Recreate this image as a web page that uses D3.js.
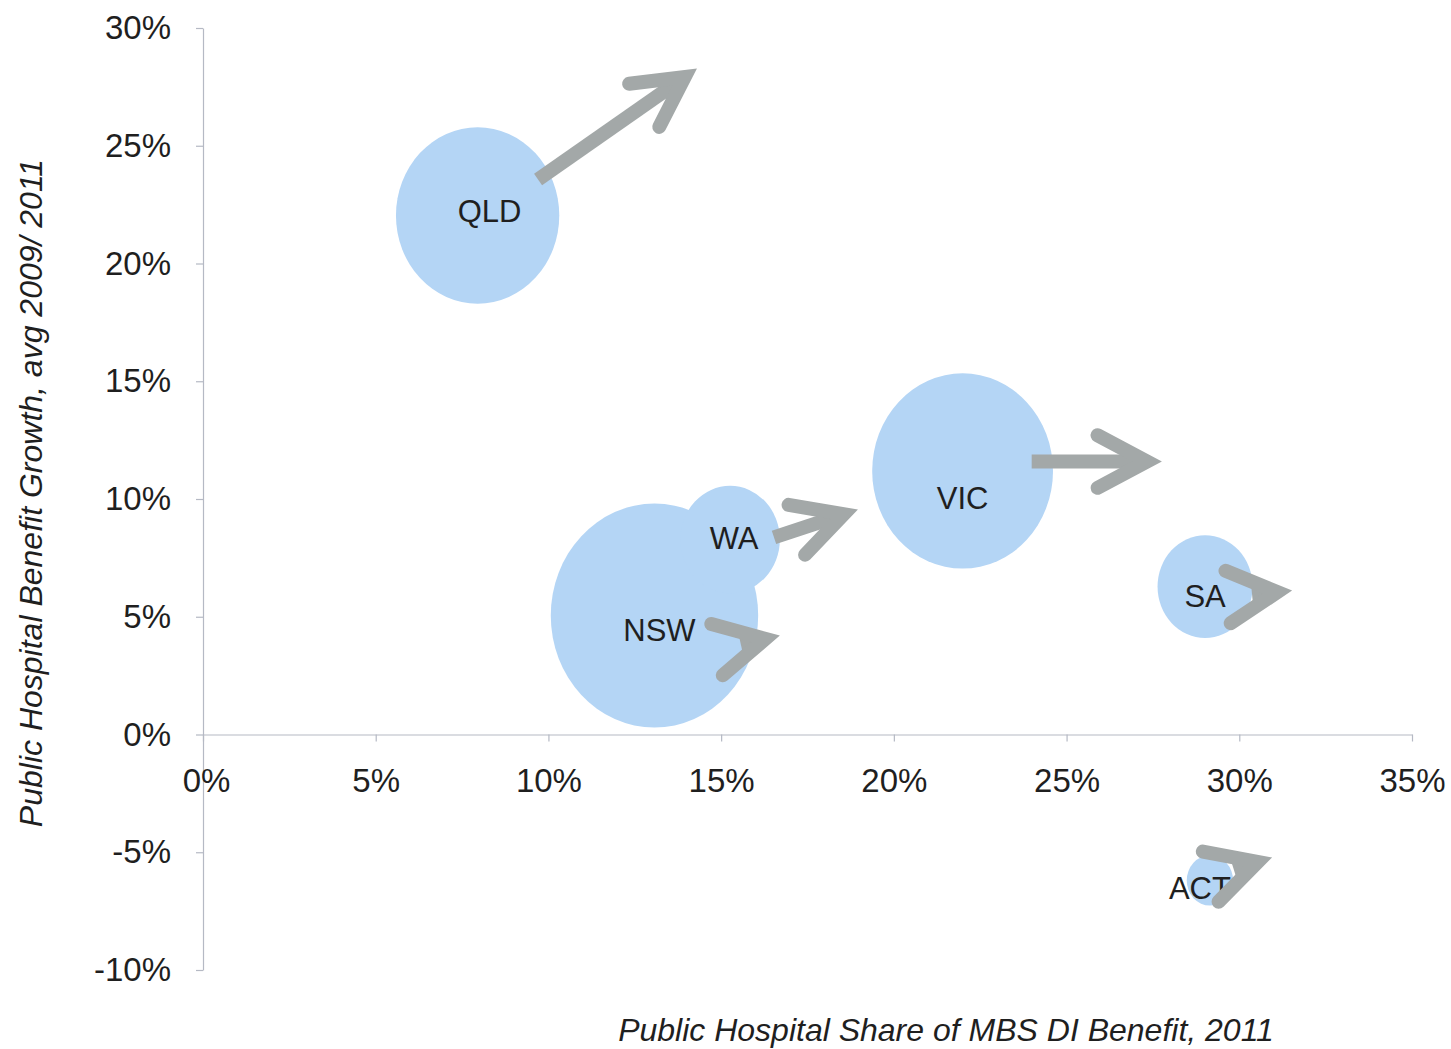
<!DOCTYPE html>
<html>
<head>
<meta charset="utf-8">
<script src="https://cdn.jsdelivr.net/npm/d3@7"></script>
<style>
  body { margin: 0; background: #fff; }
  text { font-family: "Liberation Sans", Arial, sans-serif; fill: #1f1f1f; }
</style>
</head>
<body>
<div id="chart"></div>
<script>
// States and their values (x = public hospital share, y = growth, size = bubble size)
const states = ["QLD", "VIC", "NSW", "WA", "SA", "ACT"];
const shareValues = [7.95, 21.99, 13.07, 15.26, 29.01, 29.15];
const growthValues = [22.04, 11.19, 5.05, 8.28, 6.28, -6.2];
const sizeValues = [62, 76, 100, 23, 21, 5];

// Direction arrows (tail -> tip), in data units
const arrowTailX = [9.7, 23.99, 16.53, 15.57, 30.37, 29.84];
const arrowTailY = [23.57, 11.59, 8.37, 3.83, 5.94, -5.73];
const arrowTipX = [14.3, 27.76, 18.96, 16.7, 31.53, 30.95];
const arrowTipY = [28.28, 11.59, 9.55, 4.2, 6.11, -5.22];

// Axis ticks
const xTicks = [0, 5, 10, 15, 20, 25, 30, 35];
const yTicks = [-10, -5, 0, 5, 10, 15, 20, 25, 30];

// label nudges (px), as placed in the original
const labelNudge = {
  QLD: [12, -5], VIC: [0, 27], NSW: [5, 14], WA: [4, -2], SA: [0, 9], ACT: [-10, 7]
};

const W = 1451, H = 1049;
const bubbleColor = "#b4d5f5";
const arrowColor = "#a3a8a8";
const axisColor = "#b5b9c4";

const svg = d3.select("#chart")
  .append("svg")
  .attr("width", W)
  .attr("height", H);

const xScale = d3.scaleLinear().domain([0, 35]).range([203, 1412]);
const yScale = d3.scaleLinear().domain([-10, 30]).range([970, 28]);
const rScale = d3.scaleSqrt().domain([0, 100]).range([0, 112]);

const data = states.map((s, i) => ({
  state: s,
  x: shareValues[i],
  y: growthValues[i],
  size: sizeValues[i],
  x0: arrowTailX[i], y0: arrowTailY[i],
  x1: arrowTipX[i], y1: arrowTipY[i]
}));

// Axes
const yAxis = svg.append("g")
  .attr("transform", `translate(${xScale(0)},0)`)
  .call(d3.axisLeft(yScale).tickValues(yTicks).tickSize(7).tickSizeOuter(0)
    .tickPadding(25).tickFormat(d => d + "%"));

const xAxis = svg.append("g")
  .attr("transform", `translate(0,${yScale(0)})`)
  .call(d3.axisBottom(xScale).tickValues(xTicks).tickSize(7).tickSizeOuter(0)
    .tickPadding(26).tickFormat(d => d + "%"));

[xAxis, yAxis].forEach(a => {
  a.selectAll("path, line").attr("stroke", axisColor).attr("stroke-width", 1.2);
  a.selectAll("text")
    .style("font-family", "'Liberation Sans', Arial, sans-serif")
    .style("font-size", "33px")
    .attr("fill", "#1f1f1f");
});
xAxis.selectAll("text").attr("dy", "0.75em");
xAxis.selectAll(".tick").filter(d => d === 0).select("text").attr("dx", 3);

// Bubbles
svg.append("g")
  .selectAll("ellipse")
  .data(data)
  .enter()
  .append("ellipse")
  .attr("cx", d => xScale(d.x))
  .attr("cy", d => yScale(d.y))
  .attr("rx", d => rScale(d.size) / 1.08)
  .attr("ry", d => rScale(d.size))
  .attr("fill", bubbleColor);

// Labels
svg.append("g")
  .selectAll("text")
  .data(data)
  .enter()
  .append("text")
  .attr("x", d => xScale(d.x) + labelNudge[d.state][0])
  .attr("y", d => yScale(d.y) + labelNudge[d.state][1])
  .attr("dy", "0.36em")
  .attr("text-anchor", "middle")
  .style("font-size", "31px")
  .text(d => d.state);

// Arrows: square tail shaft + open chevron head
const headLen = 56, headAngle = 28 * Math.PI / 180, strokeW = 14;
const arrows = svg.append("g");
data.forEach(d => {
  const tx = xScale(d.x0), ty = yScale(d.y0);
  const px = xScale(d.x1), py = yScale(d.y1);
  const ang = Math.atan2(py - ty, px - tx);
  // vertex of the chevron sits behind the mitered tip
  const back = (strokeW / 2) / Math.sin(headAngle);
  const vx = px - back * Math.cos(ang), vy = py - back * Math.sin(ang);
  const a1 = ang + Math.PI - headAngle, a2 = ang + Math.PI + headAngle;

  arrows.append("line")
    .attr("x1", tx).attr("y1", ty)
    .attr("x2", vx).attr("y2", vy)
    .attr("stroke", arrowColor)
    .attr("stroke-width", strokeW)
    .attr("stroke-linecap", "butt");

  const head = d3.path();
  head.moveTo(vx + headLen * Math.cos(a1), vy + headLen * Math.sin(a1));
  head.lineTo(vx, vy);
  head.lineTo(vx + headLen * Math.cos(a2), vy + headLen * Math.sin(a2));
  arrows.append("path")
    .attr("d", head.toString())
    .attr("fill", "none")
    .attr("stroke", arrowColor)
    .attr("stroke-width", strokeW)
    .attr("stroke-linecap", "round")
    .attr("stroke-linejoin", "miter");
});

// Axis titles
svg.append("text")
  .attr("x", 946)
  .attr("y", 1041)
  .attr("text-anchor", "middle")
  .style("font-size", "32px")
  .style("font-style", "italic")
  .attr("fill", "#2a2a2a")
  .text("Public Hospital Share of MBS DI Benefit, 2011");

svg.append("text")
  .attr("transform", "rotate(-90)")
  .attr("x", -493)
  .attr("y", 42)
  .attr("text-anchor", "middle")
  .style("font-size", "32px")
  .style("font-style", "italic")
  .attr("fill", "#2a2a2a")
  .text("Public Hospital Benefit Growth, avg 2009/ 2011");
</script>
</body>
</html>
